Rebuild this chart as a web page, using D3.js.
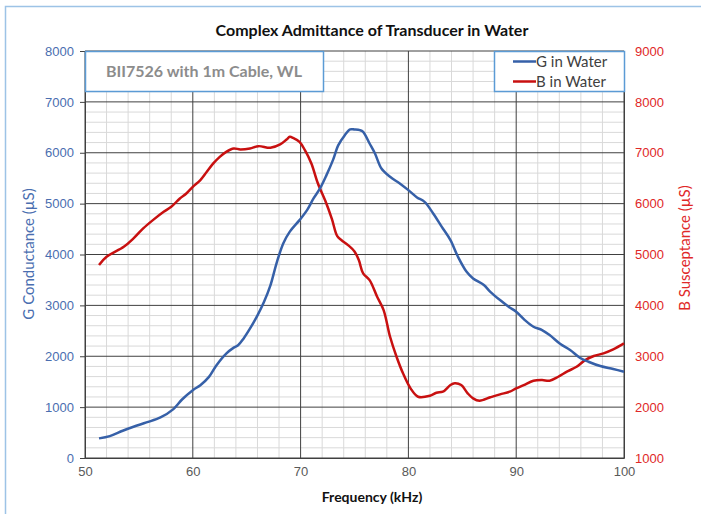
<!DOCTYPE html>
<html>
<head>
<meta charset="utf-8">
<script src="https://cdn.jsdelivr.net/npm/d3@7"></script>
<style>
  html, body { margin: 0; padding: 0; background: #fff; }
  svg { display: block; }
</style>
</head>
<body>
<div class="viz"></div>
<script>
// frequency (kHz) and conductance G (µS)
const freqG = [51.3, 52.3, 53.5, 54.5, 55.7, 57.0, 58.2, 59.0, 60.0, 60.7, 61.5, 62.2, 63.1, 63.8, 64.2, 64.7, 65.3, 66.0, 66.6, 67.2, 67.8, 68.4, 69.0, 69.9, 70.6, 71.2, 71.8, 72.4, 73.0, 73.5, 74.1, 74.6, 75.0, 75.5, 75.8, 76.4, 76.9, 77.5, 78.3, 79.2, 80.0, 80.8, 81.5, 82.3, 83.1, 83.9, 84.6, 85.4, 86.0, 87.0, 87.6, 88.5, 89.3, 90.0, 90.8, 91.6, 92.4, 93.1, 94.1, 95.0, 95.9, 96.7, 97.8, 99.0, 100];
const valuesG = [386, 431, 536, 614, 699, 797, 961, 1150, 1333, 1431, 1595, 1824, 2052, 2170, 2216, 2346, 2542, 2804, 3065, 3392, 3850, 4220, 4450, 4676, 4872, 5102, 5298, 5560, 5855, 6149, 6346, 6460, 6457, 6444, 6411, 6182, 5986, 5691, 5527, 5397, 5265, 5122, 5035, 4807, 4544, 4283, 3955, 3660, 3530, 3399, 3267, 3104, 2972, 2874, 2711, 2580, 2515, 2417, 2240, 2122, 1971, 1892, 1807, 1749, 1696];

// frequency (kHz) and susceptance B (µS)
const freqB = [51.3, 52.0, 53.6, 54.5, 55.4, 56.3, 57.3, 58.0, 58.8, 59.4, 60.0, 60.7, 61.3, 61.9, 62.5, 63.1, 63.8, 64.4, 65.3, 66.1, 67.2, 68.1, 68.7, 69.0, 69.3, 69.9, 70.4, 71.0, 71.6, 72.3, 72.9, 73.4, 73.8, 74.4, 75.0, 75.4, 75.8, 76.4, 77.1, 77.7, 78.3, 78.9, 79.5, 80.2, 80.9, 82.0, 82.6, 83.2, 83.9, 84.3, 84.9, 85.5, 86.0, 86.6, 87.6, 88.5, 89.4, 90.0, 90.7, 91.6, 92.4, 93.1, 93.9, 94.7, 95.6, 96.4, 97.2, 98.1, 99.0, 100];
const valuesB = [4792, 4955, 5151, 5316, 5513, 5676, 5839, 5937, 6102, 6200, 6330, 6462, 6625, 6790, 6920, 7018, 7084, 7065, 7084, 7130, 7097, 7163, 7261, 7313, 7293, 7214, 7051, 6790, 6400, 6050, 5700, 5360, 5280, 5185, 5060, 4890, 4628, 4497, 4169, 3908, 3383, 2990, 2664, 2369, 2204, 2224, 2283, 2303, 2434, 2468, 2434, 2271, 2173, 2126, 2193, 2251, 2303, 2369, 2434, 2519, 2532, 2519, 2597, 2696, 2794, 2925, 3004, 3057, 3135, 3253];

const xTicks = [50, 60, 70, 80, 90, 100];
const gTicks = [0, 1000, 2000, 3000, 4000, 5000, 6000, 7000, 8000];
const bTicks = [1000, 2000, 3000, 4000, 5000, 6000, 7000, 8000, 9000];

const seriesG = freqG.map((f, i) => ({ f, v: valuesG[i] }));
const seriesB = freqB.map((f, i) => ({ f, v: valuesB[i] }));

const W = 701;
const H = 514;
const margin = { top: 51, right: 77, bottom: 56, left: 85 };
const width = W - margin.left - margin.right;
const height = H - margin.top - margin.bottom;

const blue = '#3660a8';
const red = '#c81010';
const calibri = 'Lato, "Open Sans", sans-serif';
const arial = '"Liberation Sans", Arial, sans-serif';

const svg = d3.select('.viz')
  .append('svg')
  .attr('width', W)
  .attr('height', H);

// chart area border
svg.append('rect')
  .attr('x', 5.5).attr('y', 6.5)
  .attr('width', W + 10).attr('height', H + 10)
  .attr('fill', '#fff')
  .attr('stroke', '#9dc3e6')
  .attr('stroke-width', 1.5);

const g = svg.append('g')
  .attr('transform', `translate(${margin.left} ${margin.top})`);

const x = d3.scaleLinear().domain([50, 100]).range([0, width]);
const yG = d3.scaleLinear().domain([0, 8000]).range([height, 0]);
const yB = d3.scaleLinear().domain([1000, 9000]).range([height, 0]);

// minor grid
g.append('g')
  .selectAll('line')
  .data(d3.range(52, 100, 2).filter(d => d % 10 !== 0))
  .join('line')
  .attr('x1', d => x(d)).attr('x2', d => x(d))
  .attr('y1', 0).attr('y2', height)
  .attr('stroke', '#d9d9d9').attr('stroke-width', 1);

g.append('g')
  .selectAll('line')
  .data(d3.range(200, 8000, 200).filter(d => d % 1000 !== 0))
  .join('line')
  .attr('x1', 0).attr('x2', width)
  .attr('y1', d => yG(d)).attr('y2', d => yG(d))
  .attr('stroke', '#d9d9d9').attr('stroke-width', 1);

// major grid
g.append('g')
  .selectAll('line')
  .data(xTicks)
  .join('line')
  .attr('x1', d => x(d)).attr('x2', d => x(d))
  .attr('y1', 0).attr('y2', height)
  .attr('stroke', '#404040').attr('stroke-width', 1);

g.append('g')
  .selectAll('line')
  .data(gTicks)
  .join('line')
  .attr('x1', 0).attr('x2', width)
  .attr('y1', d => yG(d)).attr('y2', d => yG(d))
  .attr('stroke', '#404040').attr('stroke-width', 1);

// axes, plain integer labels without thousands separators
const fmt = d3.format('d');

const xAxis = g.append('g')
  .attr('class', 'axis x-axis')
  .attr('transform', `translate(0 ${height})`)
  .call(d3.axisBottom(x).tickValues(xTicks).tickFormat(fmt).tickSize(0).tickPadding(9));

const leftAxis = g.append('g')
  .attr('class', 'axis y-axis')
  .call(d3.axisLeft(yG).tickValues(gTicks).tickFormat(fmt).tickSize(5).tickPadding(6));

const rightAxis = g.append('g')
  .attr('class', 'axis y-axis-right')
  .attr('transform', `translate(${width} 0)`)
  .call(d3.axisRight(yB).tickValues(bTicks).tickFormat(fmt).tickSize(0).tickPadding(11));

svg.selectAll('.axis path.domain').attr('stroke', '#404040');
svg.selectAll('.axis line').attr('stroke', '#404040');
svg.selectAll('.axis text')
  .attr('font-family', arial)
  .attr('font-size', '13px');
xAxis.selectAll('text').attr('fill', '#595959');
leftAxis.selectAll('text').attr('fill', '#4a6eb0');
rightAxis.selectAll('text').attr('fill', '#e02828');

// curves
const line = d3.line()
  .x(d => x(d.f))
  .curve(d3.curveCatmullRom.alpha(0.5));

g.append('path')
  .attr('d', line.y(d => yB(d.v))(seriesB))
  .attr('fill', 'none')
  .attr('stroke', red)
  .attr('stroke-width', 2.5)
  .attr('stroke-linejoin', 'round');

g.append('path')
  .attr('d', line.y(d => yG(d.v))(seriesG))
  .attr('fill', 'none')
  .attr('stroke', blue)
  .attr('stroke-width', 2.5)
  .attr('stroke-linejoin', 'round');

// annotation box
svg.append('rect')
  .attr('x', 85.5).attr('y', 51.5)
  .attr('width', 238).attr('height', 40)
  .attr('fill', '#fff')
  .attr('stroke', '#5b9bd5')
  .attr('stroke-width', 1.5);

svg.append('text')
  .attr('x', 204).attr('y', 77)
  .attr('text-anchor', 'middle')
  .attr('font-family', calibri)
  .attr('font-weight', 'bold')
  .attr('font-size', '16px')
  .attr('fill', '#8c8c8c')
  .text('BII7526 with 1m Cable, WL');

// legend
const legend = svg.append('g');
legend.append('rect')
  .attr('x', 494.5).attr('y', 51.5)
  .attr('width', 130).attr('height', 40)
  .attr('fill', '#fff')
  .attr('stroke', '#5b9bd5')
  .attr('stroke-width', 1.5);

const legendItems = [
  { name: 'G in Water', color: blue },
  { name: 'B in Water', color: red },
];

const item = legend.selectAll('g.item')
  .data(legendItems)
  .join('g')
  .attr('class', 'item')
  .attr('transform', (d, i) => `translate(513 ${61.5 + i * 20})`);

item.append('line')
  .attr('x1', 0).attr('x2', 23)
  .attr('stroke', d => d.color)
  .attr('stroke-width', 2.5);

item.append('text')
  .attr('x', 23).attr('y', 5.5)
  .attr('font-family', calibri)
  .attr('font-size', '15px')
  .attr('fill', '#404040')
  .text(d => d.name);

// titles
svg.append('text')
  .attr('x', 372).attr('y', 36)
  .attr('text-anchor', 'middle')
  .attr('font-family', calibri)
  .attr('font-weight', 'bold')
  .attr('font-size', '16px')
  .attr('fill', '#111')
  .text('Complex Admittance of Transducer in Water');

svg.append('text')
  .attr('x', 372).attr('y', 502)
  .attr('text-anchor', 'middle')
  .attr('font-family', calibri)
  .attr('font-weight', 'bold')
  .attr('font-size', '14px')
  .attr('fill', '#111')
  .text('Frequency (kHz)');

svg.append('text')
  .attr('transform', 'translate(34 254) rotate(-90)')
  .attr('text-anchor', 'middle')
  .attr('font-family', calibri)
  .attr('font-size', '15px')
  .attr('fill', '#4a6eb0')
  .text('G Conductance (µS)');

svg.append('text')
  .attr('transform', 'translate(690 248) rotate(-90)')
  .attr('text-anchor', 'middle')
  .attr('font-family', calibri)
  .attr('font-size', '15px')
  .attr('fill', '#e02828')
  .text('B Susceptance (µS)');
</script>
</body>
</html>
